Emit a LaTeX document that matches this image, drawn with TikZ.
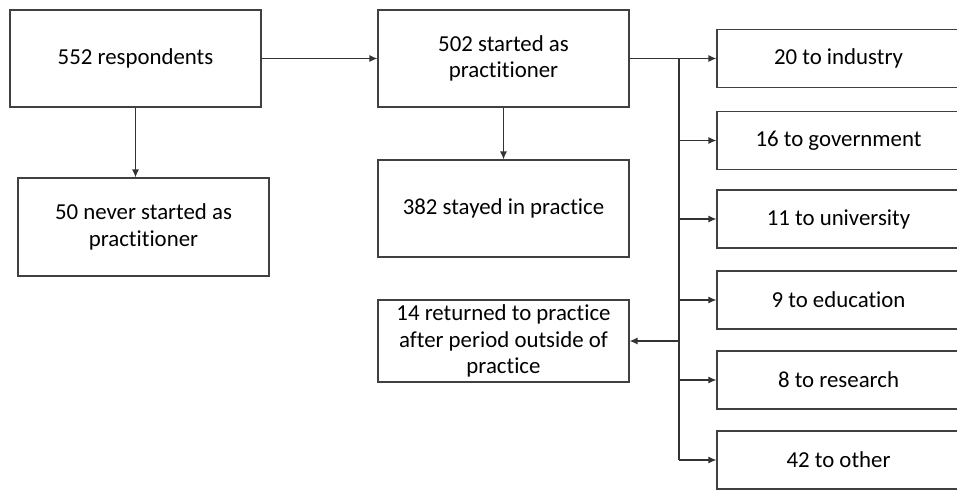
\documentclass[tikz,border=0pt]{standalone}
\usepackage{fontspec}
\setmainfont{Carlito}[Ligatures=NoCommon]
\usetikzlibrary{arrows.meta}

\begin{document}
\begin{tikzpicture}[
    box/.style={draw=black!75, line width=0.7pt, align=center, inner sep=2pt,
      font=\fontsize{13}{15.2}\selectfont, text=black},
    bigbox/.style={box, minimum width=5.02cm, minimum height=1.94cm},
    destbox/.style={box, minimum width=4.86cm, minimum height=1.16cm},
    flow/.style={draw=black!80, line width=0.7pt, -{Latex[length=4.5pt,width=4pt]}},
    bus/.style={draw=black!80, line width=0.7pt}
  ]
      \useasboundingbox (0,0) rectangle (19.14,-9.78);
      \clip (0,0) rectangle (19.14,-9.78);
      \node[bigbox] (resp) at (2.71,-1.17) {552 respondents};
      \node[bigbox, minimum height=1.96cm] (never) at (2.87,-4.54) {50 never started as\\practitioner};
      \node[bigbox] (start) at (10.07,-1.17) {502 started as\\practitioner};
      \node[bigbox] (stay) at (10.07,-4.17) {382 stayed in practice};
      \node[bigbox, minimum height=1.64cm] (back) at (10.07,-6.82) {14 returned to practice\\after period outside of\\practice};
      \node[destbox] (ind) at (16.77,-1.17) {20 to industry};
      \node[destbox] (gov) at (16.77,-2.81) {16 to government};
      \node[destbox] (uni) at (16.77,-4.38) {11 to university};
      \node[destbox] (edu) at (16.77,-6.00) {9 to education};
      \node[destbox] (res) at (16.77,-7.60) {8 to research};
      \node[destbox] (oth) at (16.77,-9.20) {42 to other};
      \coordinate (split) at (13.58,-1.17);
      \draw[flow] (resp) -- (start);
      \draw[flow] (resp.south) -- (resp.south |- never.north);
      \draw[flow] (start.south) -- (stay.north);
      \draw[flow] (start.east) -- (ind.west);
      \draw[bus] (split) -- (split |- oth.west);
      \draw[flow] (split |- gov.west) -- (gov.west);
      \draw[flow] (split |- uni.west) -- (uni.west);
      \draw[flow] (split |- edu.west) -- (edu.west);
      \draw[flow] (split |- res.west) -- (res.west);
      \draw[flow] (split |- oth.west) -- (oth.west);
      \draw[flow] (split |- back.east) -- (back.east);
\end{tikzpicture}
\end{document}
